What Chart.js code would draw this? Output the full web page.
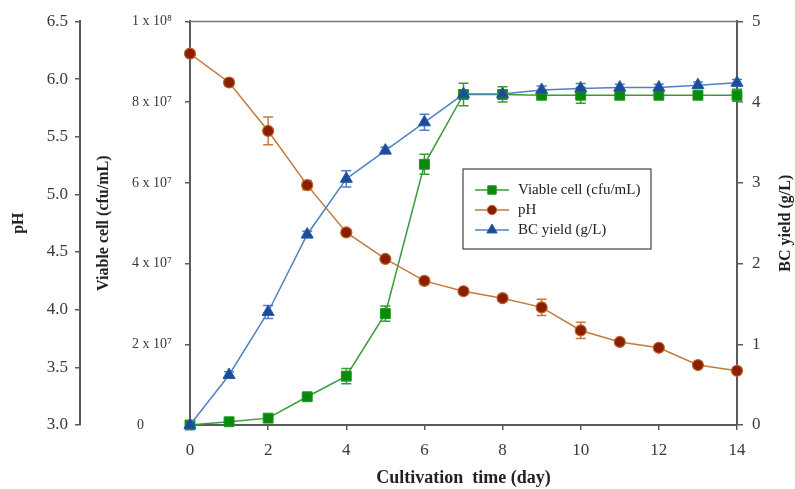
<!DOCTYPE html>
<html>
<head>
<meta charset="utf-8">
<script src="https://cdn.jsdelivr.net/npm/chart.js@4/dist/chart.umd.min.js"></script>
<style>
  html, body { margin: 0; padding: 0; background: #fff; }
  #wrap { width: 795px; height: 489px; position: relative; }
</style>
</head>
<body>
<div id="wrap"><canvas id="c" width="795" height="489"></canvas></div>
<script>
// ---- data ----
const days = [0, 1, 2, 3, 4, 5, 6, 7, 8, 9, 10, 11, 12, 13, 14];
const viableCell = [0, 8.0e5, 1.7e6, 7.0e6, 1.21e7, 2.76e7, 6.46e7, 8.19e7, 8.19e7, 8.17e7, 8.17e7, 8.17e7, 8.17e7, 8.17e7, 8.17e7];
const viableErr  = [0, 2e5, 2e5, 4e5, 1.9e6, 1.9e6, 2.5e6, 2.8e6, 1.9e6, 5e5, 2.0e6, 3e5, 3e5, 3e5, 1.5e6];
const phValues   = [6.22, 5.97, 5.55, 5.08, 4.67, 4.44, 4.25, 4.16, 4.10, 4.02, 3.82, 3.72, 3.67, 3.52, 3.47];
const phErr      = [0.02, 0.03, 0.12, 0.04, 0.02, 0.02, 0.03, 0.02, 0.02, 0.07, 0.07, 0.02, 0.02, 0.02, 0.02];
const bcYield    = [0, 0.62, 1.40, 2.36, 3.05, 3.40, 3.75, 4.10, 4.10, 4.15, 4.17, 4.18, 4.18, 4.21, 4.24];
const bcErr      = [0, 0.04, 0.08, 0.04, 0.10, 0.04, 0.10, 0.05, 0.04, 0.05, 0.06, 0.04, 0.04, 0.04, 0.04];
const seriesNames = ['Viable cell (cfu/mL)', 'pH', 'BC yield (g/L)'];
const xTitle = 'Cultivation  time (day)';
const phTitle = 'pH';
const cellTitle = 'Viable cell (cfu/mL)';
const bcTitle = 'BC yield (g/L)';

const SERIF = "'Liberation Serif', 'DejaVu Serif', serif";
const GREEN_LINE = '#3a9a3a', GREEN_PT = '#0a8a0a';
const BROWN_LINE = '#c47a3e', BROWN_PT = '#8b1e00';
const BLUE_LINE = '#4f82c2', BLUE_PT = '#1c4b98';
const AXIS = '#5a5a5a';
const TICK_TXT = '#3a3a3a';

const pts = arr => days.map((d, i) => ({ x: d, y: arr[i] }));
const sup = { 7: '\u2077', 8: '\u2078' };

const errorBars = {
  id: 'errorBars',
  beforeDatasetsDraw(chart) {
    const ctx = chart.ctx;
    const xs = chart.scales.x;
    chart.data.datasets.forEach(ds => {
      const ys = chart.scales[ds.yAxisID];
      ctx.save();
      ctx.strokeStyle = ds.borderColor;
      ctx.lineWidth = 1.5;
      ds.data.forEach((p, i) => {
        const e = ds.errors[i];
        if (!e) return;
        const px = xs.getPixelForValue(p.x);
        const y1 = ys.getPixelForValue(p.y + e);
        const y2 = ys.getPixelForValue(p.y - e);
        ctx.beginPath();
        ctx.moveTo(px, y1); ctx.lineTo(px, y2);
        ctx.moveTo(px - 5, y1); ctx.lineTo(px + 5, y1);
        ctx.moveTo(px - 5, y2); ctx.lineTo(px + 5, y2);
        ctx.stroke();
      });
      ctx.restore();
    });
  }
};

const frameAndLegend = {
  id: 'frameAndLegend',
  afterDraw(chart) {
    const ctx = chart.ctx;
    const a = chart.chartArea;
    ctx.save();
    // top frame line
    ctx.strokeStyle = '#777';
    ctx.lineWidth = 1.5;
    ctx.beginPath();
    ctx.moveTo(a.left, a.top); ctx.lineTo(a.right, a.top);
    ctx.stroke();
    // right axis title (reads bottom-to-top)
    ctx.fillStyle = '#222';
    ctx.font = 'bold 16px ' + SERIF;
    ctx.textAlign = 'center';
    ctx.textBaseline = 'middle';
    ctx.translate(786, (a.top + a.bottom) / 2);
    ctx.rotate(-Math.PI / 2);
    ctx.fillText(bcTitle, 0, 0);
    ctx.restore();

    // legend
    ctx.save();
    const bx = 463, by = 169, bw = 188, bh = 80;
    ctx.fillStyle = '#fff';
    ctx.fillRect(bx, by, bw, bh);
    ctx.strokeStyle = '#444';
    ctx.lineWidth = 1.2;
    ctx.strokeRect(bx, by, bw, bh);
    const ds = chart.data.datasets;
    ctx.font = '15px ' + SERIF;
    ctx.textBaseline = 'middle';
    ctx.textAlign = 'left';
    ds.forEach((d, i) => {
      const y = by + 21 + i * 20;
      const cx = bx + 29;
      ctx.strokeStyle = d.borderColor;
      ctx.lineWidth = 1.5;
      ctx.beginPath(); ctx.moveTo(bx + 12, y); ctx.lineTo(bx + 46, y); ctx.stroke();
      ctx.fillStyle = d.pointBackgroundColor;
      ctx.strokeStyle = d.pointBorderColor;
      ctx.lineWidth = 1;
      ctx.beginPath();
      const r = d.pointRadius * 0.85;
      if (d.pointStyle === 'rect') {
        const s = r * Math.SQRT1_2;
        ctx.rect(cx - s, y - s, 2 * s, 2 * s);
      } else if (d.pointStyle === 'circle') {
        ctx.arc(cx, y, r, 0, Math.PI * 2);
      } else {
        ctx.moveTo(cx, y - r);
        ctx.lineTo(cx + r * 0.866, y + r * 0.5);
        ctx.lineTo(cx - r * 0.866, y + r * 0.5);
        ctx.closePath();
      }
      ctx.fill(); ctx.stroke();
      ctx.fillStyle = '#222';
      ctx.fillText(seriesNames[i], bx + 55, y);
    });
    ctx.restore();
  }
};

new Chart(document.getElementById('c'), {
  type: 'line',
  data: {
    datasets: [
      {
        label: seriesNames[0], data: pts(viableCell), errors: viableErr, yAxisID: 'yCell',
        borderColor: GREEN_LINE, backgroundColor: GREEN_PT, borderWidth: 1.5,
        pointStyle: 'rect', pointRadius: 7, pointBackgroundColor: GREEN_PT, pointBorderColor: '#1a9a1a',
        pointBorderWidth: 1, tension: 0, order: 2, clip: false
      },
      {
        label: seriesNames[1], data: pts(phValues), errors: phErr, yAxisID: 'yPh',
        borderColor: BROWN_LINE, backgroundColor: BROWN_PT, borderWidth: 1.5,
        pointStyle: 'circle', pointRadius: 5.5, pointBackgroundColor: BROWN_PT, pointBorderColor: '#b8642c',
        pointBorderWidth: 1.2, tension: 0, order: 1, clip: false
      },
      {
        label: seriesNames[2], data: pts(bcYield), errors: bcErr, yAxisID: 'yBC',
        borderColor: BLUE_LINE, backgroundColor: BLUE_PT, borderWidth: 1.5,
        pointStyle: 'triangle', pointRadius: 7, pointBackgroundColor: BLUE_PT, pointBorderColor: '#2a5aa8',
        pointBorderWidth: 1, tension: 0, order: 0, clip: false
      }
    ]
  },
  options: {
    responsive: false,
    animation: false,
    events: [],
    layout: { padding: { top: 21, left: 0, right: 0, bottom: 0 } },
    plugins: { legend: { display: false }, tooltip: { enabled: false } },
    scales: {
      x: {
        type: 'linear', min: 0, max: 14,
        ticks: { stepSize: 2, color: TICK_TXT, font: { family: SERIF, size: 17 }, padding: 10, maxRotation: 0 },
        grid: { drawOnChartArea: false, drawTicks: true, tickLength: 5, color: AXIS, lineWidth: 1.5 },
        border: { color: AXIS, width: 2 },
        title: { display: true, text: xTitle, color: '#222', font: { family: SERIF, size: 18, weight: 'bold' }, padding: { top: 0, bottom: 0 } },
        afterFit(s) { s.height = 64; }
      },
      yPh: {
        type: 'linear', position: 'left', min: 3, max: 6.5, weight: 1,
        ticks: { stepSize: 0.5, color: TICK_TXT, font: { family: SERIF, size: 17 }, padding: 7,
                 callback: v => v.toFixed(1) },
        grid: { drawOnChartArea: false, drawTicks: true, tickLength: 5, color: AXIS, lineWidth: 1.5 },
        border: { color: AXIS, width: 2 },
        title: { display: true, text: phTitle, color: '#222', font: { family: SERIF, size: 16, weight: 'bold' }, padding: { top: 9, bottom: 0 } },
        afterFit(s) { s.width = 80; }
      },
      yCell: {
        type: 'linear', position: 'left', min: 0, max: 1e8, weight: 0,
        ticks: { stepSize: 2e7, color: TICK_TXT, font: { family: SERIF, size: 14 }, padding: 13,
                 callback: v => {
                   if (v === 0) return '0        ';
                   const e = Math.floor(Math.log10(v) + 1e-9);
                   const m = Math.round(v / Math.pow(10, e));
                   return m + ' x 10' + sup[e];
                 } },
        grid: { drawOnChartArea: false, drawTicks: true, tickLength: 5, color: AXIS, lineWidth: 1.5 },
        border: { color: AXIS, width: 2 },
        title: { display: true, text: cellTitle, color: '#222', font: { family: SERIF, size: 16, weight: 'bold' }, padding: { top: 14, bottom: 0 } },
        afterFit(s) { s.width = 110; }
      },
      yBC: {
        type: 'linear', position: 'right', min: 0, max: 5,
        ticks: { stepSize: 1, color: TICK_TXT, font: { family: SERIF, size: 17 }, padding: 9 },
        grid: { drawOnChartArea: false, drawTicks: true, tickLength: 6, color: AXIS, lineWidth: 1.5 },
        border: { color: AXIS, width: 2 },
        title: { display: false },
        afterFit(s) { s.width = 58; }
      }
    }
  },
  plugins: [errorBars, frameAndLegend]
});
</script>
</body>
</html>
